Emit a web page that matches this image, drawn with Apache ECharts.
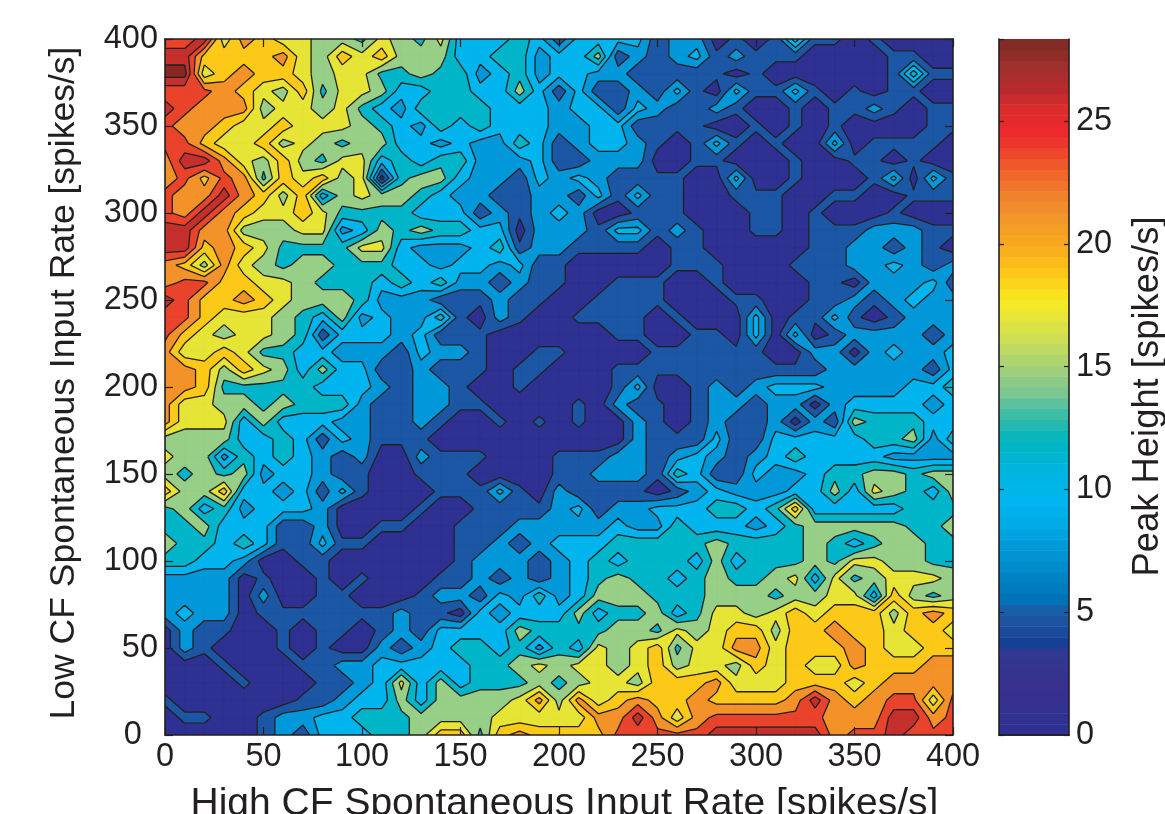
<!DOCTYPE html>
<html><head><meta charset="utf-8">
<style>html,body{margin:0;padding:0;background:#fff}#c{width:1165px;height:814px}</style>
<script src="https://cdn.jsdelivr.net/npm/echarts@6/dist/echarts.min.js"></script>
</head><body><div id="c"></div>
<script>
const xRates=[0,10,20,30,40,50,60,70,80,90,100,110,120,130,140,150,160,170,180,190,200,210,220,230,240,250,260,270,280,290,300,310,320,330,340,350,360,370,380,390,400];
const yRates=[400,390,380,370,360,350,340,330,320,310,300,290,280,270,260,250,240,230,220,210,200,190,180,170,160,150,140,130,120,110,100,90,80,70,60,50,40,30,20,10,0];
const peakRows=[
[22,22,25,15,20,18,15,15,13,13,11,15,13,11,15,8,8,8,11,8,3,8,8,8,8,3,6,6,1,3,1,3,11,3,3,1,3,1,1,1,1],
[25,25,18,18,18,18,20,15,13,18,15,18,13,13,13,8,8,11,11,6,8,8,13,3,6,3,6,8,3,6,3,3,3,1,1,1,1,3,3,1,1],
[27,27,15,18,20,18,18,15,13,15,15,11,11,13,11,11,6,8,11,6,8,8,6,6,3,3,3,3,3,1,3,1,1,1,1,1,1,3,11,3,3],
[22,22,22,20,18,15,13,18,11,15,15,13,8,8,11,11,8,8,13,8,3,8,3,3,6,3,8,3,1,8,3,3,8,3,1,3,1,3,3,1,1],
[25,22,20,20,20,13,15,15,13,15,11,8,6,11,11,11,11,8,8,8,6,8,8,3,8,6,3,3,6,3,1,1,3,1,3,3,6,3,1,3,3],
[22,20,20,18,15,15,18,15,15,15,13,11,8,6,11,8,11,8,8,8,6,6,8,8,3,3,3,3,1,1,3,1,3,1,3,1,1,1,1,3,3],
[22,22,18,15,15,18,13,15,13,11,13,13,8,8,6,8,6,6,11,8,3,6,8,8,6,3,1,3,8,3,1,3,1,1,8,1,3,3,3,3,1],
[20,25,25,20,15,13,18,13,11,15,15,8,11,8,11,11,6,6,6,8,3,3,6,6,6,1,1,3,3,1,1,1,3,1,1,3,3,1,3,1,1],
[20,22,18,22,20,11,18,15,18,13,15,1,11,13,13,8,6,6,3,8,6,8,6,3,3,3,3,1,1,8,1,1,3,1,1,1,3,8,1,8,3],
[22,20,20,25,20,18,13,18,8,13,15,13,13,11,8,6,6,3,3,6,6,3,8,3,8,3,3,1,1,3,3,3,1,1,3,3,1,1,3,3,3],
[22,20,25,20,18,15,15,18,15,11,11,11,11,8,8,8,3,6,3,6,8,6,1,1,3,3,3,1,1,1,3,3,1,3,1,1,1,3,1,1,1],
[25,25,20,20,13,13,13,15,15,6,8,13,11,13,11,11,8,8,1,6,6,6,3,8,8,3,6,3,1,1,3,3,1,3,3,3,6,6,6,3,3],
[25,25,18,20,18,15,11,11,11,11,15,15,8,6,6,6,8,11,3,6,6,3,3,3,3,1,3,3,1,1,1,1,1,3,3,6,6,3,6,3,1],
[20,18,13,20,15,13,11,13,13,11,11,11,8,8,6,8,8,6,8,3,3,1,1,1,1,1,3,3,3,1,1,1,3,3,3,6,6,8,6,3,6],
[20,22,22,18,18,15,15,13,11,11,11,8,11,8,11,6,6,3,6,3,3,1,1,3,3,3,1,1,3,1,1,1,1,3,3,1,6,6,6,8,3],
[25,22,18,18,20,18,15,13,13,13,11,6,6,6,3,3,3,6,3,3,1,1,3,3,3,3,1,1,1,3,3,1,1,3,3,6,3,6,8,6,6],
[22,22,18,15,15,15,13,11,8,13,6,8,6,6,11,3,1,6,3,1,1,3,3,3,3,1,3,1,1,1,8,1,3,3,8,3,1,3,6,6,6],
[22,18,15,13,15,15,13,11,3,8,8,8,6,8,3,3,3,1,1,1,1,1,1,3,3,1,1,3,3,1,8,1,8,1,3,6,6,6,6,3,6],
[20,15,15,18,15,11,11,8,8,6,6,6,3,8,6,6,3,1,1,3,3,1,1,1,1,3,3,3,3,3,3,1,1,6,6,1,6,8,6,6,8],
[20,20,18,13,18,15,13,8,13,8,8,3,3,6,3,3,3,1,3,3,1,1,1,3,3,3,3,3,3,3,3,3,3,3,6,6,6,6,6,3,8],
[20,20,18,11,11,11,11,11,8,8,8,6,3,6,6,3,1,1,3,1,1,1,1,3,8,1,1,3,6,3,6,8,8,8,6,6,6,6,8,8,11],
[20,15,15,13,13,11,13,11,11,11,6,3,3,6,6,3,3,1,1,1,1,3,1,6,3,3,1,3,6,6,3,6,6,1,6,8,8,8,8,6,8],
[20,15,15,15,8,13,8,8,8,6,6,3,3,6,3,1,1,3,1,3,1,3,1,1,6,3,1,3,6,3,3,6,1,6,3,13,11,11,11,8,8],
[13,13,13,13,8,8,11,8,3,8,6,3,3,3,1,1,1,1,1,1,1,1,1,1,6,3,3,3,8,3,3,8,8,8,8,8,11,11,13,6,11],
[15,13,13,6,11,8,11,8,6,3,6,1,1,6,3,3,3,1,1,1,3,3,3,6,6,3,6,8,6,3,6,8,11,8,8,8,8,6,6,6,6],
[13,11,13,11,13,6,8,8,6,3,3,1,1,3,3,3,1,1,1,1,3,3,6,6,6,3,11,8,3,3,8,6,6,8,11,11,13,13,11,13,13],
[18,13,13,18,8,8,6,8,3,8,3,1,1,1,3,3,3,8,3,1,6,3,3,3,3,1,3,6,8,6,6,6,8,8,13,8,15,13,11,8,13],
[11,13,8,11,6,8,8,8,6,1,1,1,1,3,1,1,3,3,3,3,6,8,3,6,6,8,8,8,11,11,8,11,18,8,8,8,8,8,11,11,11],
[11,11,13,8,8,8,3,3,6,1,1,3,3,1,1,3,3,3,6,6,6,6,6,8,6,6,11,8,8,8,6,8,11,13,13,13,13,13,11,11,13],
[13,11,11,8,11,8,3,3,8,3,3,1,1,1,1,3,3,6,3,6,8,8,8,11,11,11,11,11,13,11,11,11,11,13,11,8,11,13,13,11,11],
[11,11,8,8,6,1,1,3,3,1,1,1,1,1,1,3,6,6,6,3,6,8,11,8,11,11,11,8,13,8,11,11,11,13,11,15,15,13,13,11,11],
[6,6,6,6,1,3,1,1,3,1,3,1,1,1,3,3,6,3,6,3,6,8,11,13,11,11,8,11,13,11,11,13,15,8,15,11,13,15,15,15,13],
[6,6,6,6,1,6,1,1,3,3,1,1,1,3,6,6,3,8,6,11,6,8,13,13,13,11,11,11,13,13,13,11,13,13,15,15,8,18,13,11,13],
[6,8,6,6,1,3,3,3,3,3,3,3,6,3,3,1,8,6,8,8,8,13,8,11,11,13,8,11,15,15,13,15,18,15,18,18,18,13,18,20,18],
[1,6,3,3,1,1,3,1,3,3,1,3,6,3,8,8,8,8,13,11,11,11,11,13,13,11,15,13,15,18,18,13,18,18,20,18,18,15,18,18,15],
[1,6,3,1,1,1,3,1,3,1,1,6,3,6,8,11,11,8,11,6,11,8,15,13,15,18,11,15,15,20,20,15,18,18,18,20,18,15,15,18,18],
[1,1,1,3,1,1,1,3,3,6,6,8,8,8,8,8,11,11,13,15,13,15,15,13,15,18,13,15,15,13,18,15,18,15,15,20,18,18,18,20,20],
[1,1,1,1,3,1,1,1,3,3,6,8,15,8,13,8,11,11,11,13,11,13,15,15,13,18,18,18,20,15,15,15,18,18,18,15,18,20,20,20,20],
[3,1,1,1,1,1,1,3,3,6,8,8,13,8,13,13,13,13,15,20,13,20,15,18,20,18,18,20,18,18,18,18,20,25,20,18,20,22,22,15,22],
[1,3,3,1,1,3,6,6,8,8,11,11,11,13,13,13,13,15,15,15,15,15,20,20,25,20,15,20,22,22,22,22,22,22,20,20,20,25,25,20,22],
[1,1,1,1,1,3,6,3,8,8,8,11,11,13,18,18,11,18,20,18,18,18,18,22,22,22,22,22,25,25,25,25,25,25,20,22,22,25,22,22,22]
];
const contourLevels=[0,2.36,4.73,7.09,9.45,11.8,14.17,16.54,18.9,21.26,23.63,25.99,28.35];
const bandColors=['#2e3192','#1b57a4','#0098d8','#00b5ee','#00b5c8','#97cf87','#e6e435','#fdc918','#f4922a','#ea432b','#c5302c','#892824'];
const barSteps=64, barMax=28.35;
const barStops=[[0,'#2e3192'],[2,'#37308f'],[3.6,'#2f3a92'],[3.7,'#153f95'],[5,'#1f5aa6'],[5.4,'#006fb5'],[6.5,'#0085c5'],[7.5,'#0095d5'],[8.5,'#00a9e4'],[9.5,'#00b5f0'],[10.5,'#00b4e4'],[12,'#00b5c0'],[13,'#38bca8'],[14,'#7ec690'],[15,'#a5d176'],[16,'#c9de5a'],[17,'#e6e53a'],[17.7,'#f8ec1f'],[18.3,'#fcd61a'],[19,'#fdc118'],[20,'#f8a91e'],[21,'#f39728'],[22,'#f1802c'],[23,'#ef622a'],[24,'#ed3b2c'],[24.7,'#ed262e'],[25.5,'#d92d2c'],[26.3,'#bb2a2e'],[27.2,'#9f2f2c'],[28.35,'#7c2a25']];
const ink='#231f20', font='"Liberation Sans",Helvetica,Arial,sans-serif';

function lerp(a,b,t){return a+(b-a)*t;}
function clipBy(poly,level,keepAbove){
  const out=[];
  for(let i=0;i<poly.length;i++){
    const p=poly[i],q=poly[(i+1)%poly.length];
    const pIn=keepAbove?p[2]>=level:p[2]<=level, qIn=keepAbove?q[2]>=level:q[2]<=level;
    if(pIn) out.push(p);
    if(pIn!==qIn){const t=(level-p[2])/(q[2]-p[2]);out.push([lerp(p[0],q[0],t),lerp(p[1],q[1],t),level]);}
  }
  return out;
}
function cellCorners(r,c){
  return [[xRates[c],yRates[r],peakRows[r][c]],[xRates[c+1],yRates[r],peakRows[r][c+1]],
          [xRates[c+1],yRates[r+1],peakRows[r+1][c+1]],[xRates[c],yRates[r+1],peakRows[r+1][c]]];
}
function toPath(polys,closed,coord){
  let d='';
  polys.forEach(poly=>{
    poly.forEach((p,i)=>{const q=coord([p[0],p[1]]);d+=(i?'L':'M')+q[0].toFixed(2)+' '+q[1].toFixed(2)+' ';});
    if(closed)d+='Z ';
  });
  return d;
}
function bandPolys(k){
  const polys=[];
  for(let r=0;r<yRates.length-1;r++)for(let c=0;c<xRates.length-1;c++){
    let poly=clipBy(cellCorners(r,c),contourLevels[k],true);
    if(poly.length)poly=clipBy(poly,contourLevels[k+1],false);
    if(poly.length>2)polys.push(poly);
  }
  return polys;
}
function levelSegments(level){
  const segs=[];
  for(let r=0;r<yRates.length-1;r++)for(let c=0;c<xRates.length-1;c++){
    const q=cellCorners(r,c),pts=[];
    for(let i=0;i<4;i++){
      const p=q[i],n=q[(i+1)%4];
      if((p[2]>=level)!==(n[2]>=level)){const t=(level-p[2])/(n[2]-p[2]);pts.push([lerp(p[0],n[0],t),lerp(p[1],n[1],t)]);}
    }
    if(pts.length===2)segs.push(pts);
    else if(pts.length===4){
      if(q[0][2]>=level){segs.push([pts[0],pts[1]]);segs.push([pts[2],pts[3]]);}
      else{segs.push([pts[1],pts[2]]);segs.push([pts[3],pts[0]]);}
    }
  }
  return segs;
}
function barColor(v){
  for(let i=1;i<barStops.length;i++){
    if(v<=barStops[i][0]){
      const a=barStops[i-1],b=barStops[i];
      return echarts.color.lerp((v-a[0])/(b[0]-a[0]),[a[1],b[1]]);
    }
  }
  return barStops[barStops.length-1][1];
}
const barSlots=[];for(let i=0;i<barSteps;i++)barSlots.push([0,i]);

const axisBase={min:0,max:400,interval:50,z:10,axisLine:{show:true,onZero:false,lineStyle:{color:ink,width:1.6}},
  axisTick:{show:true,inside:true,length:8,lineStyle:{color:ink,width:1.2}},splitLine:{show:false}};
const lbl={color:ink,fontSize:32.5,fontFamily:font};
const chart=echarts.init(document.getElementById('c'),null,{renderer:'canvas'});
chart.setOption({
  animation:false,backgroundColor:'#fff',
  grid:[{left:165,top:39,width:788,height:696,outerBoundsMode:'none'},{left:999,top:39,width:70,height:696,outerBoundsMode:'none'}],
  xAxis:[
    Object.assign({},axisBase,{type:'value',gridIndex:0,position:'bottom',name:'High CF Spontaneous Input Rate [spikes/s]',nameLocation:'middle',nameGap:50,
      nameTextStyle:{color:ink,fontSize:39,fontFamily:font,padding:[0,0,0,11]},axisLabel:Object.assign({},lbl,{margin:6,hideOverlap:false,showMinLabel:true,showMaxLabel:true})}),
    Object.assign({},axisBase,{type:'value',gridIndex:0,position:'top',axisLabel:{show:false}}),
    {type:'value',gridIndex:1,min:0,max:1,show:true,axisLine:{show:true,lineStyle:{color:ink,width:1.6}},axisTick:{show:false},axisLabel:{show:false},splitLine:{show:false},position:'bottom',z:10},
    {type:'value',gridIndex:1,min:0,max:1,show:true,axisLine:{show:true,lineStyle:{color:ink,width:1.6}},axisTick:{show:false},axisLabel:{show:false},splitLine:{show:false},position:'top',z:10}
  ],
  yAxis:[
    Object.assign({},axisBase,{type:'value',gridIndex:0,position:'left',name:'Low CF Spontaneous Input Rate [spikes/s]',nameLocation:'middle',nameGap:83,nameRotate:90,
      nameTextStyle:{color:ink,fontSize:35.5,fontFamily:font,padding:[0,0,0,8]},
      axisLabel:Object.assign({},lbl,{margin:7,showMinLabel:true,showMaxLabel:true,formatter:v=>v===0?'0\u2002':String(v)})}),
    Object.assign({},axisBase,{type:'value',gridIndex:0,position:'right',axisLabel:{show:false}}),
    {type:'value',gridIndex:1,position:'right',min:0,max:barMax,interval:5,z:10,name:'Peak Height [spikes/s]',nameLocation:'middle',nameGap:61,nameRotate:90,
      nameTextStyle:{color:ink,fontSize:36.4,fontFamily:font,padding:[0,19,0,0]},
      axisLine:{show:true,onZero:false,lineStyle:{color:ink,width:1.6}},axisTick:{show:true,inside:true,length:5,lineStyle:{color:ink,width:1.2}},
      axisLabel:Object.assign({},lbl,{margin:7,showMaxLabel:false}),splitLine:{show:false}},
    {type:'value',gridIndex:1,position:'left',min:0,max:barMax,interval:5,z:10,
      axisLine:{show:true,onZero:false,lineStyle:{color:ink,width:1.6}},axisTick:{show:true,inside:true,length:5,lineStyle:{color:ink,width:1.2}},
      axisLabel:{show:false},splitLine:{show:false}}
  ],
  series:[
    {type:'custom',name:'bands',coordinateSystem:'cartesian2d',xAxisIndex:0,yAxisIndex:0,silent:true,clip:true,z:2,
     data:bandColors.map((c,i)=>[i,0]),encode:{x:0,y:1},
     renderItem:(p,api)=>({type:'path',shape:{pathData:toPath(bandPolys(api.value(0)),true,api.coord)},style:{fill:bandColors[api.value(0)],stroke:bandColors[api.value(0)],lineWidth:0.3}})},
    {type:'custom',name:'contours',coordinateSystem:'cartesian2d',xAxisIndex:0,yAxisIndex:0,silent:true,clip:true,z:3,
     data:contourLevels.slice(1,-1).map((l,i)=>[l,0]),encode:{x:1,y:1},
     renderItem:(p,api)=>({type:'path',shape:{pathData:toPath(levelSegments(api.value(0)),false,api.coord)},style:{fill:null,stroke:ink,lineWidth:1.3,lineJoin:'round'}})},
    {type:'custom',name:'colorbar',coordinateSystem:'cartesian2d',xAxisIndex:2,yAxisIndex:2,silent:true,z:2,
     data:barSlots,encode:{x:0,y:1},
     renderItem:(p,api)=>{
       const i=api.value(1),lo=i*barMax/barSteps,hi=(i+1)*barMax/barSteps;
       const a=api.coord([0,lo]),b=api.coord([1,hi]);
       return {type:'rect',shape:{x:a[0],y:b[1],width:b[0]-a[0],height:a[1]-b[1]+0.5},style:{fill:barColor((lo+hi)/2)}};
     }}
  ]
});
</script></body></html>
